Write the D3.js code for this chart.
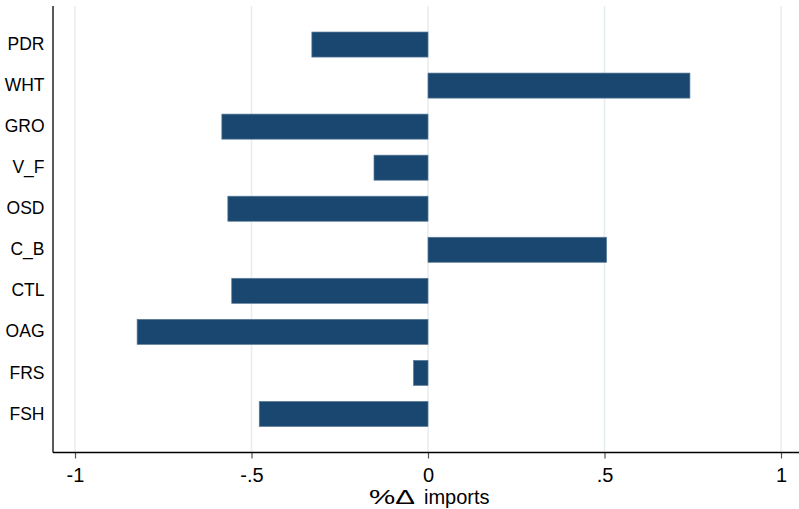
<!DOCTYPE html>
<html>
<head>
<meta charset="utf-8">
<script src="https://cdn.jsdelivr.net/npm/d3@7"></script>
<style>
  html, body { margin: 0; padding: 0; background: #fff; }
  svg { display: block; font-family: Arial, "Liberation Sans", Helvetica, sans-serif; }
</style>
</head>
<body>
<svg id="chart" width="799" height="509"></svg>
<script>
const categories = ["PDR", "WHT", "GRO", "V_F", "OSD", "C_B", "CTL", "OAG", "FRS", "FSH"];
const values = [-0.329, 0.742, -0.584, -0.153, -0.567, 0.506, -0.556, -0.824, -0.041, -0.478];
const tickValues = [-1, -0.5, 0, 0.5, 1];
const tickLabels = ["-1", "-.5", "0", ".5", "1"];
const xTitleSymbol = "%\u0394";
const xTitleWord = "imports";

const svg = d3.select("#chart");
const W = 799, H = 509;
const axisX = 53, axisY = 452.5, topY = 6;

const x = d3.scaleLinear().domain([-1, 1]).range([75, 781]);
const y = d3.scaleBand().domain(categories).range([topY, axisY])
  .paddingInner(0.39).paddingOuter(0.634);

// gridlines
svg.append("g").selectAll("line").data(tickValues).join("line")
  .attr("x1", d => x(d)).attr("x2", d => x(d))
  .attr("y1", topY).attr("y2", axisY)
  .attr("stroke", "#e6eef0").attr("stroke-width", 1.5);

// bars
svg.append("g").selectAll("rect").data(categories).join("rect")
  .attr("x", (d, i) => Math.min(x(0), x(values[i])))
  .attr("width", (d, i) => Math.abs(x(values[i]) - x(0)))
  .attr("y", d => y(d))
  .attr("height", y.bandwidth())
  .attr("fill", "#1a476f")
  .attr("stroke", "#5a7b99").attr("stroke-width", 0.7);

// x axis
const xAxis = d3.axisBottom(x).tickValues(tickValues)
  .tickFormat((d, i) => tickLabels[i]).tickSize(6).tickSizeOuter(0);
const gx = svg.append("g").attr("transform", `translate(0,${axisY})`).call(xAxis);
gx.select(".domain").remove();
gx.selectAll(".tick line").attr("stroke", "#555").attr("stroke-width", 1.2);
gx.selectAll(".tick text").attr("font-size", 20).attr("fill", "#000")
  .attr("dy", "0.71em").attr("y", 15)
  .attr("font-family", "Arial, 'Liberation Sans', sans-serif");

svg.append("line").attr("x1", axisX).attr("x2", W).attr("y1", axisY).attr("y2", axisY)
  .attr("stroke", "#000").attr("stroke-width", 1.3);

// y axis
const yAxis = d3.axisLeft(y).tickSize(0).tickPadding(8.5);
const gy = svg.append("g").attr("transform", `translate(${axisX},0)`).call(yAxis);
gy.select(".domain").remove();
gy.selectAll(".tick text").attr("font-size", 17.5).attr("fill", "#000")
  .attr("font-family", "Arial, 'Liberation Sans', sans-serif");
svg.append("line").attr("x1", axisX).attr("x2", axisX).attr("y1", topY).attr("y2", axisY)
  .attr("stroke", "#000").attr("stroke-width", 1.3);

// x title
const t = svg.append("text").attr("x", x(0) - 59).attr("y", 504.3)
  .attr("text-anchor", "start").attr("font-size", 20).attr("fill", "#000");
t.append("tspan").attr("textLength", 46).attr("lengthAdjust", "spacingAndGlyphs").text(xTitleSymbol);
t.append("tspan").attr("x", x(0) - 4).text(xTitleWord);
</script>
</body>
</html>
